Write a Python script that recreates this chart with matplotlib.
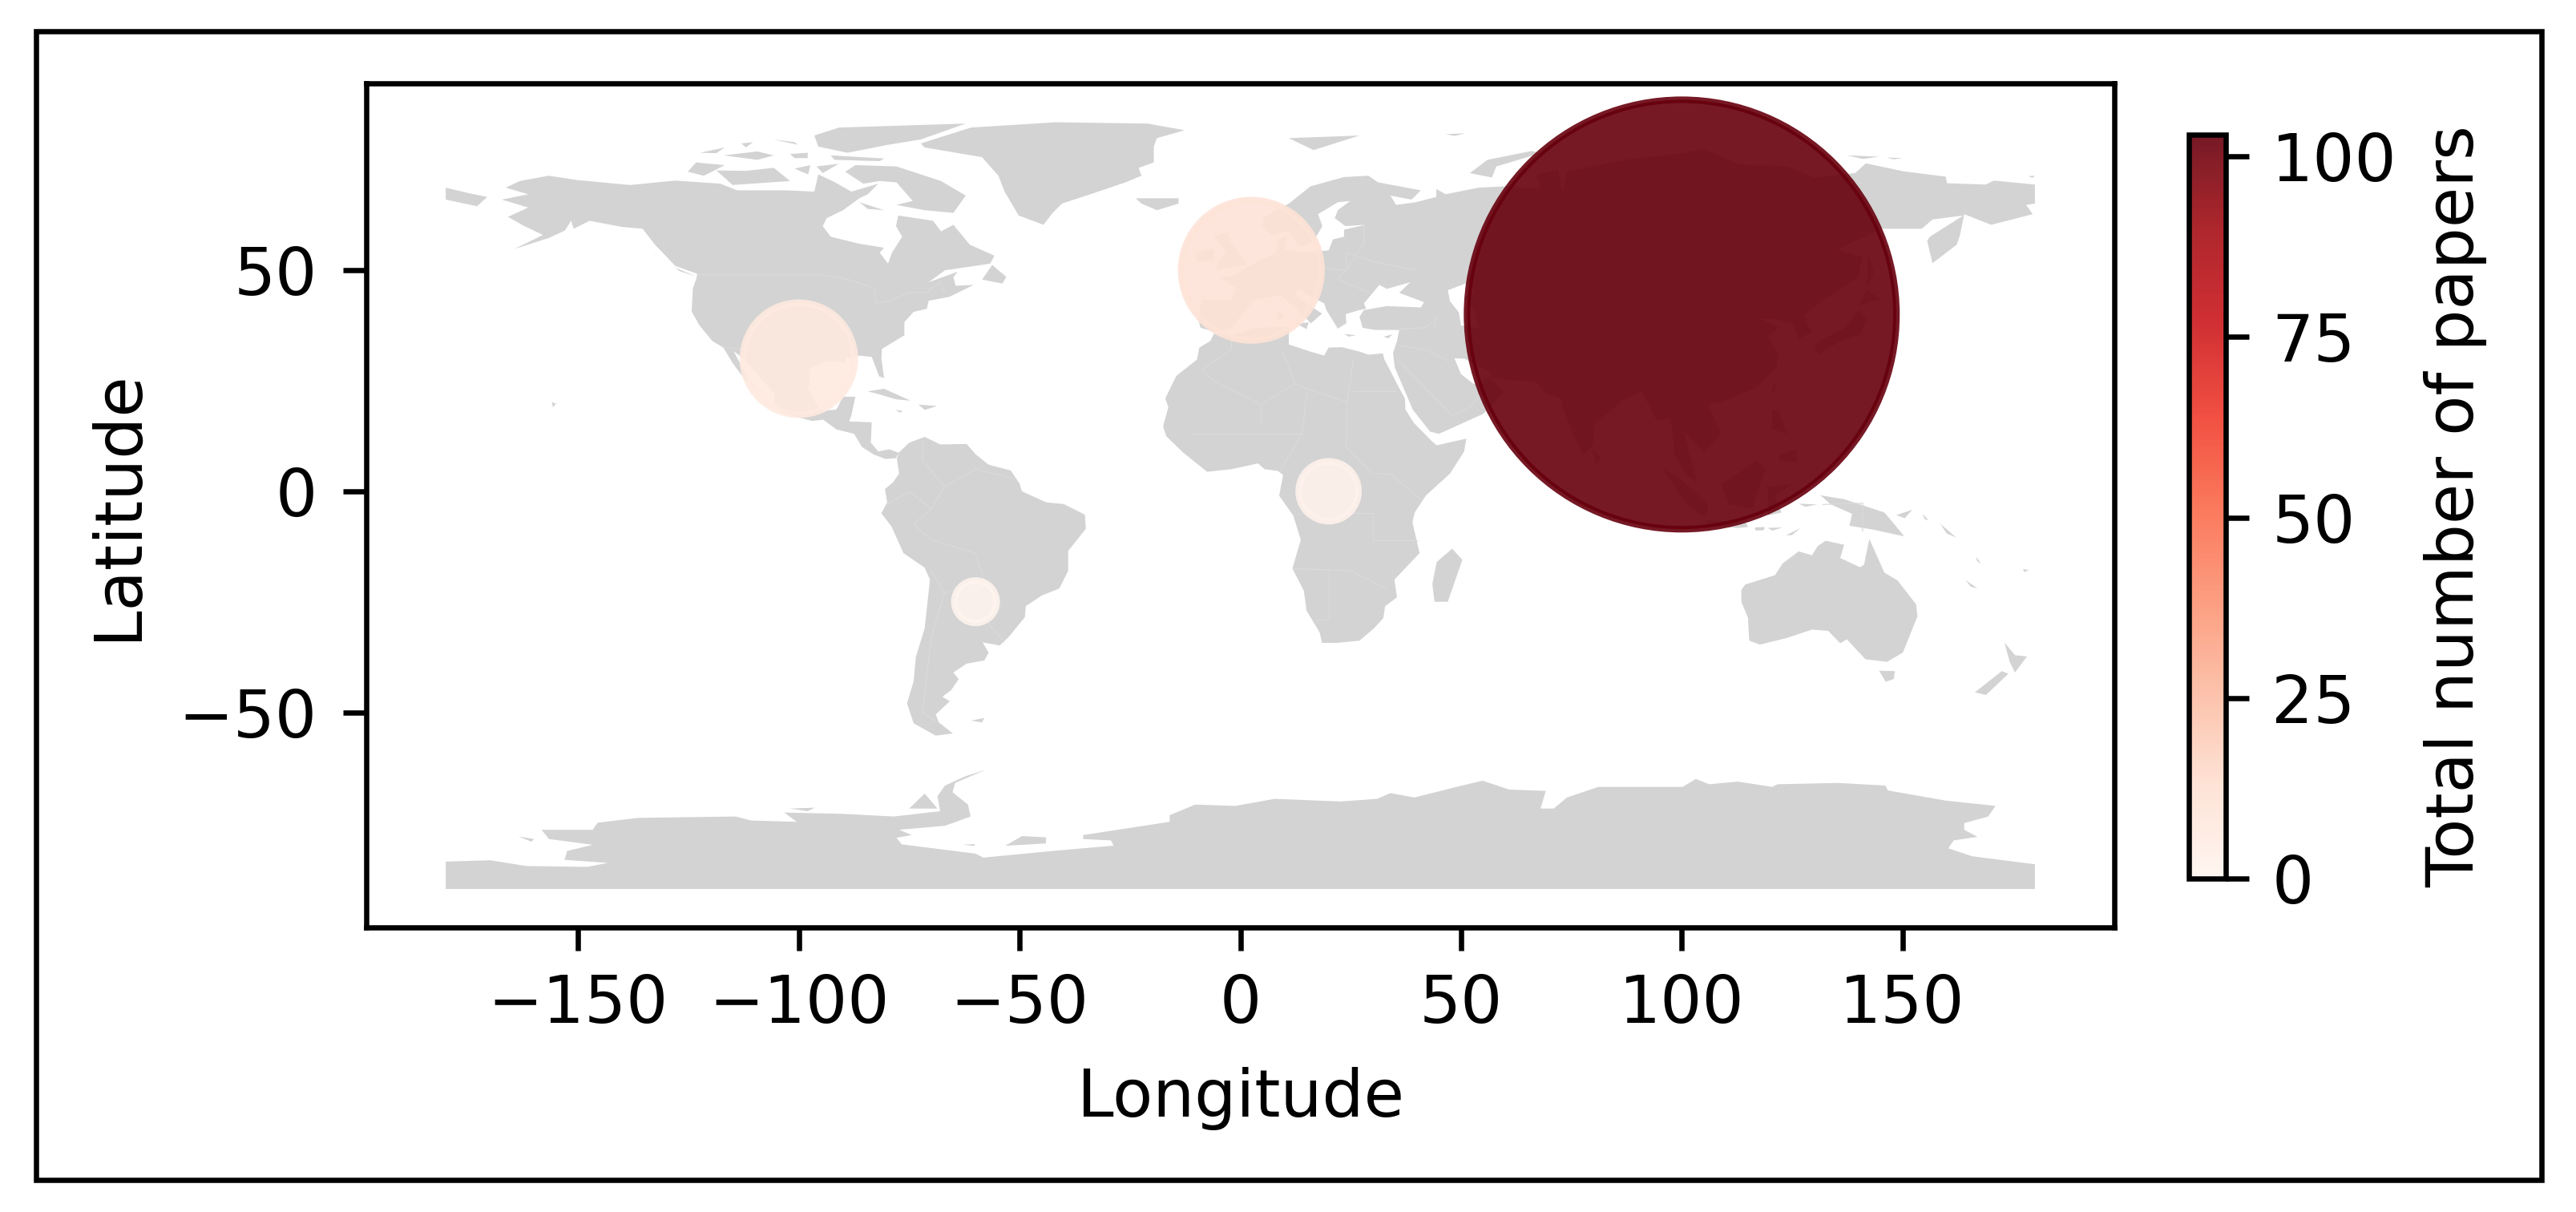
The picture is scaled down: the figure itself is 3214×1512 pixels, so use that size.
import matplotlib
matplotlib.use("Agg")
import matplotlib.pyplot as plt
from matplotlib.patches import Polygon, Rectangle

W, H, DPI = 3214, 1512, 590

# bubble data
lons = [100, 2.5, -100, 20, -60]
lats = [40, 50, 30, 0, -25]
papers = [103, 11, 7, 2, 1]
SIZE_PER_PAPER = 41.5

# land outlines (lon, lat)
north_america = [(-156.7,71.4),(-150,70.4),(-138.2,69.3),(-128,70.3),(-117.8,69.6),(-114,68.1),(-103,68.1),(-96.5,67.8),(-95.6,71.7),(-92,70),(-88.1,67.8),(-82,69.6),(-84.4,67.2),(-86.3,66.3),(-90,63.6),(-93.7,61.8),(-94.6,60),(-92.8,57.6),(-86.3,56),(-80.7,55.1),(-81.7,54),(-79.8,51.5),(-78.9,54),(-76.6,57.6),(-78,60),(-77.5,62.4),(-69.6,61.2),(-67.8,58.8),(-65,60.3),(-61.3,55.8),(-55.7,53.3),(-56.7,51.5),(-66.9,50),(-70.6,47.3),(-64,49.7),(-65,48.5),(-64.5,46.5),(-60.4,46.7),(-65.9,44),(-70.6,43.1),(-71,41.3),(-74,40.6),(-76.1,38.3),(-76.1,35.3),(-81.2,32.2),(-81.3,30),(-80.7,25.6),(-81.8,26),(-83.5,30.4),(-86.3,30.7),(-89.5,30.2),(-89.3,29.1),(-93.7,29.5),(-97.4,28),(-97.9,23.2),(-95.6,19),(-94.5,18.2),(-91.5,18.5),(-90,21.4),(-87.2,21.4),(-88.1,17.2),(-88.6,15.8),(-83.5,15.6),(-83.7,11),(-82,9),(-79.5,9.5),(-77.4,8.7),(-78,7.5),(-80.4,7.3),(-83,8.3),(-85.7,10),(-87.5,13),(-91.5,14),(-94.5,16.2),(-97,15.9),(-103.9,17.8),(-105.5,20),(-105.5,22),(-109,26),(-112.5,30),(-114.8,31.7),(-112,26.5),(-109.5,23.2),(-112,25),(-115,29),(-117.1,32.5),(-119.6,34),(-122.5,37.5),(-124.3,40.7),(-124,46),(-123.3,47.9),(-123,49.2),(-128,51),(-132.6,55.8),(-135.4,59.4),(-140,59.8),(-147.4,61.2),(-151,59.4),(-151.6,61.2),(-153,59),(-156.7,57.3),(-164.5,54.8),(-158,58),(-162.2,60),(-165.9,62.1),(-161.3,64.2),(-167.3,66),(-161.3,67.2),(-166.4,68.7),(-163.2,70.2)]
south_america = [(-77.4,8.7),(-75,11),(-71.5,12.3),(-68,10.6),(-62,10.7),(-60,8.4),(-57,6),(-52,4.7),(-50,1.7),(-49.5,0),(-44,-2.5),(-40,-2.9),(-35.2,-5.3),(-35,-8.5),(-39,-13.5),(-39,-18),(-41,-22),(-45,-23.6),(-48.6,-26),(-48.8,-28.5),(-52.5,-33),(-54.5,-34.9),(-58.4,-34.2),(-57,-36.5),(-58,-38.3),(-62,-39),(-65,-41),(-63.8,-42.5),(-65.5,-45),(-67.5,-46.5),(-65.8,-47.5),(-69,-50.5),(-68.3,-52.3),(-65.1,-54.8),(-69,-55.3),(-74,-52.5),(-75.5,-48),(-74,-43),(-73.5,-37.5),(-71.5,-31),(-70.3,-20),(-71.5,-17.3),(-76.3,-14),(-79,-8),(-81.3,-5),(-80,-2.5),(-80.5,0.5),(-78.7,2),(-77.3,4),(-77.8,7.3)]
africa = [(-5.9,35.8),(-2,35.2),(3,36.9),(10,37.3),(11,36.9),(11,34.3),(11,33.2),(15.9,31.6),(19,30.7),(20,32.5),(23,32.6),(27,31.6),(29,30.9),(32.3,31.2),(32.6,29.9),(33.6,28),(35.7,23.9),(37.3,21),(37.4,18.5),(39.3,15.5),(43.2,11.5),(44.5,10.4),(51.2,11.9),(50.7,9),(47.5,4),(42,-1),(39.5,-4.8),(39,-7),(40.6,-14),(37,-17.8),(34.9,-20),(35.5,-24),(32.8,-26),(32.4,-28.7),(30.3,-31),(27,-33.8),(22,-34.3),(18.5,-34.3),(18,-32),(15,-27),(14.4,-22.5),(11.8,-17.5),(13.7,-11),(12,-5.5),(8.8,-1),(9.7,3.7),(8.5,4.6),(5.5,5.0),(4,6.3),(-2,5),(-7.5,4.4),(-13,8.8),(-16.8,12.5),(-17.5,14.7),(-16.3,19),(-17,21),(-14.5,26.1),(-9.8,29.8),(-9.3,32.5),(-6.8,34)]
eurasia = [(-5.6,36),(-9,37),(-9.5,38.8),(-8.8,43.2),(-1.8,43.4),(-1,46),(-4.7,48.4),(-1.5,48.7),(2,51),(4,52),(8,53.8),(8.6,57),(10.5,57.6),(10,54.8),(14,54),(20,54.5),(21,57),(23.5,57.6),(23.5,59.2),(28.4,60.3),(23.8,60),(21.4,61.8),(22.1,63.6),(24.9,65.7),(22.1,65.4),(17.6,62.7),(18.6,60),(16.5,56.5),(14.2,55.4),(12.7,56),(11,59),(7,58),(5,60),(5.3,62),(11,65.1),(15.9,69),(23.5,71.1),(29,71.4),(31.2,69.9),(40.9,68.1),(38.8,66),(34,66.9),(35.3,64.8),(39.8,65.4),(44.4,66.6),(44.4,68.4),(46.5,67.2),(54,68.7),(60,69),(68,68.5),(67,71.5),(72,72.8),(73,68),(74,72.5),(80,73.5),(87,75),(100,76.5),(105,77.5),(113,74),(124,73.5),(130,71),(139.3,72),(141.7,74.2),(150.2,72.4),(159.8,71.2),(160.1,69.7),(168.9,69.4),(170.7,70.3),(180,69.4),(180,65.1),(178,64.8),(179.5,62.7),(170.1,60.3),(164,62.7),(163,57.9),(162.3,55.8),(156.8,51.6),(155.6,56.7),(156.2,57.6),(163.8,62.4),(156.8,61.5),(154.4,59.4),(145.3,59.4),(135.3,54.7),(141,53),(140,48.4),(132,43.2),(127.6,39.8),(129.4,36),(126.5,34.5),(125,38),(121,39),(118,39),(122,37),(119.5,35),(122,31),(121.5,28),(117,23.5),(110,20.5),(106,19.5),(109,13),(105,8.7),(100.5,13.5),(103.5,2),(101,3.5),(98.5,8),(97.5,16.5),(94.3,16),(91,22.5),(86.5,20.5),(80.2,15),(80,10.5),(77.5,8),(73,19),(72.5,21),(69,22.3),(67,24.8),(61.5,25.1),(57,25.7),(56.4,27.1),(50.8,30),(48.5,30.1),(50,26.5),(52.7,24.4),(54,24),(56.3,26),(59.8,22.5),(55,17.5),(45,13),(43,13.5),(39.1,18.4),(35,28),(34.8,29.5),(34.6,31.3),(35.5,34),(36,36.5),(30.5,36.5),(27.7,37),(27,39.5),(28,41),(33.2,41.9),(40.9,41.6),(41.6,42.8),(36,44.9),(38.5,47.3),(36.4,46.7),(33.2,45.8),(31.5,46.7),(28,42.5),(28.5,41.3),(27,41),(23.9,40.1),(24,38),(22.1,36.8),(19.5,41),(19,42.5),(13,45.7),(12.4,44.3),(18.5,40.2),(16,38),(12.5,41.5),(9,44.4),(3,43.2),(0,39.5),(-2,36.8)]
chukotka = [(-180,68.7),(-175,67.5),(-170.6,66.6),(-172.9,64.5),(-180,66)]
greenland = [(-61,82.3),(-41.8,83.5),(-21,83.2),(-12.6,81.7),(-18.9,79.9),(-19.6,78),(-19.6,74.4),(-23,73.2),(-22.4,71.4),(-26,69.9),(-34,67.2),(-40.4,65.1),(-42.5,63),(-44.6,60.3),(-50.2,62.4),(-53.4,67.8),(-54.8,71.4),(-58.5,75.6),(-71.5,77.8),(-72.4,78.7)]
australia = [(113.5,-22.3),(114.4,-21.1),(121.1,-19),(122.9,-16.3),(126.5,-13.6),(129.5,-14.5),(130.8,-12.4),(132.6,-11.2),(136.8,-12.1),(135.9,-15.1),(140.4,-17.2),(141.3,-16.6),(142.5,-10.8),(145.9,-18.4),(148.9,-20.2),(153.1,-25.6),(153.4,-28.3),(150.1,-36.5),(146.5,-38.6),(141.6,-38),(137.4,-33.5),(135.9,-34.4),(133.2,-31.6),(129.5,-31.3),(123.8,-33.2),(117.7,-34.7),(115.3,-33.8),(115,-28.6),(113.5,-25)]
antarctica = [(-180,-83.8),(-169.9,-83.5),(-161.8,-84.8),(-147.9,-85),(-143.3,-84.1),(-153.1,-83.4),(-152.5,-81.4),(-146.7,-80),(-156.6,-78.7),(-158.3,-76.6),(-146.7,-76.6),(-145.6,-75),(-136.3,-73.9),(-114.3,-73.6),(-110.9,-74.5),(-100.5,-74.8),(-103.3,-72.7),(-90,-73),(-78.5,-73.6),(-68,-72.4),(-68.6,-69),(-66.9,-66.6),(-62.3,-64.5),(-57.6,-63),(-64.6,-66),(-65.2,-68.1),(-61.7,-70.9),(-61.1,-73.6),(-66.9,-75.7),(-77.3,-76.6),(-74.4,-77.8),(-77.9,-78.4),(-76.7,-79.9),(-60,-82),(-58.2,-82.9),(-42.6,-81.4),(-28.7,-80.2),(-29.3,-79),(-35.6,-78.7),(-35.6,-77.8),(-16,-74.8),(-16,-73.3),(-10.2,-70.9),(-1.1,-71.2),(7.8,-69.6),(22.7,-70.2),(31,-69.6),(34,-68.3),(39.4,-69.3),(50.2,-66.6),(54.9,-65.5),(60.9,-67.5),(69.2,-67.8),(68,-71.8),(71,-71.8),(74,-69.3),(81.1,-66.9),(100.2,-66.9),(103.2,-65.1),(106.2,-66.3),(112.7,-65.7),(120.5,-66.9),(121.7,-66.3),(135.4,-66),(146.1,-66.6),(146.7,-67.7),(159.8,-70),(171.1,-71.2),(169.4,-73.6),(164,-75.1),(164,-76.6),(167,-78.2),(161.6,-79),(160.4,-80.8),(165.8,-82.6),(180,-84.4),(180,-90),(-180,-90)]
islands = [
    # Canadian Arctic
    [(-89.5,72.3),(-87.2,73.8),(-77.9,73.5),(-67.8,70.2),(-62.2,66.9),(-65,63),(-71.5,63.6),(-77.9,64.8),(-74.2,65.7),(-77.9,69.9),(-81.7,70.2),(-85.4,69.6)],
    [(-118.7,72.6),(-115,69.3),(-102,70.2),(-105.7,73.2),(-112,72.5)],
    [(-125.2,72.3),(-123.3,74.4),(-116.8,73.8),(-121.5,71.4)],
    [(-96.5,80.5),(-90.9,82.3),(-62.2,83.2),(-72.4,79.6),(-79.8,78.4),(-89,76.6),(-95.6,78)],
    [(-92.8,76),(-80.7,75.3),(-81.7,74.7),(-91.9,75)],
    [(-117,76),(-109.4,75),(-105.7,76),(-109.4,76.9)],
    [(-122.4,76.6),(-116.8,77.8),(-118.7,76.5)],
    [(-101,73),(-97.4,73.8),(-97.9,71.7)],
    [(-96,73.5),(-91,74.1),(-94.6,72)],
    [(-102,76.3),(-98,76.6),(-98,75.4),(-101,75.4)],
    [(-105.7,79.6),(-100.2,78.4),(-101,79)],
    [(-113,78.7),(-110.4,79),(-112,77.8)],
    [(-86.3,65.4),(-80.7,63.6),(-84.4,63.9)],
    [(-58.5,47.9),(-56.2,51.2),(-53,48.5),(-53.9,47)],
    [(-128,50.6),(-123.3,48.6),(-127,49.8)],
    [(-133,54.2),(-131.7,52.5),(-132.5,53.5)],
    # Caribbean, Pacific, South Atlantic
    [(-84.4,22.6),(-80.7,23.2),(-74.7,20.5),(-78,20.8),(-82,22)],
    [(-72.9,19.6),(-68.7,19.3),(-71.5,18.4)],
    [(-78.2,18.4),(-76.5,18.2),(-77,17.8)],
    [(-156,20.2),(-155,19.8),(-155.7,19)],
    [(-61,-51.9),(-58,-51.3),(-58.5,-52.3)],
    # North Atlantic and Europe
    [(-23.7,66.3),(-14,66.3),(-14,65.1),(-18.9,63.6),(-22.4,65.1)],
    [(-5.5,50.2),(1.5,51.2),(0,53.5),(-2,56),(-3,58.6),(-6,57.5),(-3.2,54),(-5,52)],
    [(-10,52),(-6,52.2),(-6,55),(-10,54)],
    [(52,72),(56,75),(66,77),(68,76.5),(58,73.5),(57,71)],
    [(11,79.9),(27,80.5),(16.6,77.2)],
    [(46.5,80.8),(51,81),(48.5,80.4)],
    [(137.5,76),(144.7,75.7),(141,75.2)],
    [(146.5,75.5),(150,75.4),(148,75.1)],
    [(178.5,71.3),(180,71.4),(179.5,70.9)],
    [(8.3,41),(9.7,40),(9.7,39),(8.5,39)],
    [(12.5,38),(15.5,38.2),(15,36.7)],
    [(23.6,35.6),(26.2,35.3),(24.5,35)],
    [(32.5,35),(34.5,35.5),(33.5,34.6)],
    # Indian Ocean
    [(48,-13),(50.3,-15.5),(47,-25),(44,-25),(43.5,-21),(44.5,-16)],
    [(79.8,9.7),(81.8,7.5),(80.5,6)],
    # Asia-Pacific
    [(130,33),(132,34.5),(137,37),(140,41),(142,39),(140.5,35.5),(135.5,33.7),(131,31)],
    [(140,42),(145,43.5),(142,45.5)],
    [(142,54),(143.5,49.5),(142,46),(142,50)],
    [(120.2,23),(121.5,25),(121,22)],
    [(120.5,18.5),(122,18),(124,13),(120.5,14)],
    [(122,8),(126,9.5),(126,6.5),(122,7)],
    [(95.5,5.5),(100,2.5),(106,-3),(105.5,-6),(101,-3)],
    [(105.5,-6.5),(114.5,-7),(115,-8.1),(112.6,-8.3),(106,-7.7)],
    [(109,1.5),(117,7),(119,5),(117.5,1),(116,-4),(110.5,-3)],
    [(119.5,1),(125,1.5),(121,-1),(122.6,-4.8),(119.5,-5.5)],
    [(126.5,-2.8),(130.7,-3),(128,-3.5)],
    [(131.4,-0.9),(136.8,-1.8),(145.9,-4.8),(147.7,-6.9),(150.4,-10.2),(143.5,-8.7),(138,-7.8),(138.6,-5.1),(133.8,-3)],
    [(116.5,-8.2),(118.8,-8.1),(118.6,-8.8),(116.8,-8.9)],
    [(119.5,-8.3),(122.8,-8.2),(120.5,-8.9)],
    [(123.6,-10),(126.9,-8.3),(125,-9.9)],
    [(148.6,-5.4),(152.2,-4.2),(152.5,-3.9),(150.5,-6.1)],
    [(154.6,-5.1),(155.9,-6.6),(155,-6.3)],
    [(158.5,-7.3),(162.2,-10.5),(160,-9.5)],
    [(166.7,-14.8),(167.8,-16.4),(166.9,-15.8)],
    [(164.3,-20.1),(167,-22),(165.5,-21.6)],
    [(177.3,-17.6),(178.6,-17.8),(177.6,-18.3)],
    [(144.7,-40.6),(148.3,-40.7),(148,-42.5),(146.2,-43.1)],
    [(173.1,-34.2),(175.5,-37.1),(178.2,-37.4),(175.5,-41),(174.3,-38.6)],
    [(172.5,-40.7),(174,-41.3),(168.9,-46.1),(166.4,-45.5)],
    # Antarctic ice islands
    [(-75,-71.8),(-71.5,-68.4),(-68.6,-71.8)],
    [(-102,-71.8),(-96.4,-71.6),(-98,-72.4)],
    [(-163.5,-78.1),(-160,-78.7),(-160.6,-79.3)],
]
inland_water = [
    [(47,45.5),(51,47),(53,45),(51,44),(53,41),(54,37),(50,37.5),(49.5,40.5),(47.5,43)],
]
ice_rises = [
    [(-54.2,-80.5),(-49.5,-77.8),(-43.8,-78.1),(-43.8,-79.9)],
    [(-65.7,-79.9),(-60,-79.6),(-60,-80.5)],
]
borders = [
    [(-123,49),(-95,49),(-89,48),(-83,46),(-82.5,42.5),(-79,43.3),(-75,45),(-71,45),(-68,47.3),(-67,45)],
    [(-117,32.5),(-106,31.7),(-101,29.5),(-97.3,26)],
    [(-6,25),(4.7,19.6),(12.4,24.4),(9.6,31.6)],
    [(-6,25),(-8.7,27.5),(-2,32),(-2,35.2)],
    [(4.7,19.6),(4.7,15)],
    [(12.4,24.4),(15.2,23.2),(24.2,20.2),(25.6,29.8)],
    [(25.6,22.6),(35.3,22.6)],
    [(24.2,20.2),(24,10),(30,4),(34,4),(41,-2)],
    [(15.2,23.2),(14,13),(9,4.5)],
    [(14,13),(-11,13)],
    [(13,-5),(30,-5),(30,-11),(40,-11)],
    [(12,-17.5),(25,-18),(33,-22)],
    [(20,-18),(20,-29),(17,-29)],
    [(-70,-4),(-67,1),(-60,5),(-52,3)],
    [(-70,-4),(-74,-7.5),(-70,-11),(-60,-14),(-58,-20),(-54,-26),(-57,-30),(-53.5,-34)],
    [(-70,-18),(-67,-23),(-70,-33),(-72,-50),(-69,-52)],
    [(-67,-23),(-58,-20)],
    [(-80,-3),(-75,0),(-70,-4)],
    [(-72,11.5),(-72,7),(-67,1)],
    [(14,54),(15,51),(24,50),(24,54)],
    [(24,50),(22,48),(29,45)],
    [(28,60),(28,56),(24,50)],
    [(40,50),(30,52),(24,54)],
    [(36,36.8),(42,37),(44.5,39.5),(44,37)],
    [(36,33),(42,32),(47,29.5)],
    [(36,29.5),(48,17),(52,19),(56,24)],
    [(132,-3),(141,-2.7),(141,-9)],
]

LAND = "#d3d3d3"

plt.rcParams["font.family"] = "DejaVu Sans"
fig = plt.figure(figsize=(W / DPI, H / DPI), dpi=DPI, facecolor="white")
fig.add_artist(Rectangle((45 / W, 1 - 1472 / H), (3171 - 45) / W, (1472 - 39) / H,
                         transform=fig.transFigure, fill=False, ec="black", lw=0.8))

ax = fig.add_axes([457 / W, 1 - 1157 / H, (2638 - 457) / W, (1157 - 104) / H])
for shape in [north_america, south_america, africa, eurasia, chukotka, greenland,
              australia, antarctica] + islands:
    ax.add_patch(Polygon(shape, closed=True, fc=LAND, ec="none", zorder=1))
for shape in inland_water:
    ax.add_patch(Polygon(shape, closed=True, fc="white", ec="none", zorder=1.1))
for shape in ice_rises:
    ax.add_patch(Polygon(shape, closed=True, fc=LAND, ec="white", lw=0.3, zorder=1.2))
for line in borders:
    ax.plot([p[0] for p in line], [p[1] for p in line], color="#dadada", lw=0.15, zorder=1.3)

sc = ax.scatter(lons, lats, s=[p * SIZE_PER_PAPER for p in papers], c=papers,
                cmap="Reds", alpha=0.9, vmin=0, vmax=103, zorder=2)
ax.set_xlim(-198, 198)
ax.set_ylim(-98.7, 92.3)
ax.set_xticks([-150, -100, -50, 0, 50, 100, 150])
ax.set_yticks([-50, 0, 50])
ax.tick_params(axis="y", pad=4)
ax.set_xlabel("Longitude", labelpad=4.6)
ax.set_ylabel("Latitude", labelpad=4.4)

cax = fig.add_axes([2731 / W, 1 - 1096 / H, (2777 - 2731) / W, (1096 - 168) / H])
cb = fig.colorbar(sc, cax=cax)
cb.set_ticks([0, 25, 50, 75, 100])
cb.set_label("Total number of papers")

fig.savefig("out.png", dpi=DPI)
